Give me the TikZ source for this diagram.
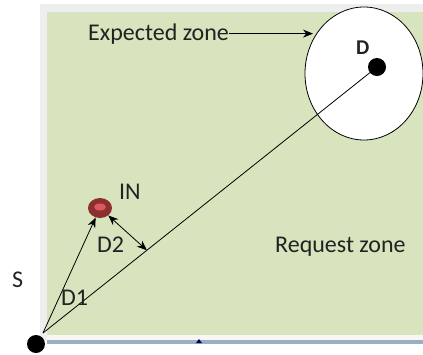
\documentclass[tikz,border=0pt]{standalone}
\usepackage{fontspec}
\setmainfont{Carlito}
\usetikzlibrary{arrows.meta,shapes.geometric,calc}
\definecolor{zonegreen}{HTML}{D7E4BD}
\definecolor{framegray}{HTML}{EEEEEE}
\definecolor{baseblue}{HTML}{9AB0BE}
\definecolor{nodered}{HTML}{8E2F2F}
\definecolor{nodelight}{HTML}{D95A5E}
\definecolor{txt}{HTML}{222222}
\begin{document}
\begin{tikzpicture}[x=1pt,y=-1pt,
  lbl/.style={text=txt,font=\fontsize{24}{27}\selectfont,inner sep=0pt},
  dotnode/.style={circle,fill=black,minimum size=18pt,inner sep=0pt},
  conn/.style={draw=black,line width=0.8pt},
  arr/.style={conn,-{Stealth[length=10pt,width=8pt]}},
  darr/.style={conn,{Stealth[length=10pt,width=8pt]}-{Stealth[length=10pt,width=8pt]}}]
\useasboundingbox (0,0) rectangle (423,354);
% background frame
\fill[framegray] (40,4) rectangle (423,340);
\fill[zonegreen] (47,12) rectangle (423,335);
\fill[white!97!black] (47,335) rectangle (423,340);
\draw[baseblue,line width=4pt] (47,342) -- (423,342);
\fill[black!60!blue] (196,343) -- (202,343) -- (199,339) -- cycle;
% expected zone
\node[ellipse,draw=black,line width=0.8pt,fill=white,minimum width=118pt,minimum height=133pt,inner sep=0pt] (EZ) at (364,73.5) {};
% nodes
\node[dotnode] (S) at (36,344) {};
\coordinate (s0) at (43,333);
\node[dotnode] (D) at (377,67) {};
\node[ellipse,fill=nodered,minimum width=24pt,minimum height=20pt,inner sep=0pt] (IN) at (100,208) {};
\node[ellipse,fill=nodelight,minimum width=12pt,minimum height=7pt,inner sep=0pt] (INc) at (100,207) {};
% connectors
\draw[conn] (s0) -- (D.center);
\draw[arr] (s0) -- (IN);
\coordinate (p) at ($(s0)!0.311!(D.center)$);
\draw[darr] (IN) -- (p);
% labels
\node[lbl,anchor=base west] (ET) at (88,40) {Expected zone};
\coordinate (ETtip) at (313,33);
\draw[arr] (ET.east) -- (ETtip |- ET.east);
\node[lbl,anchor=base west] (RZ) at (275,252) {Request zone};
\node[lbl,anchor=base west] (INl) at (119,199) {IN};
\node[lbl,anchor=base west] (D2l) at (97,252) {D2};
\node[lbl,anchor=base west] (D1l) at (61,305) {D1};
\node[lbl,anchor=base west] (Sl) at (12,287) {S};
\node[lbl,anchor=base west,font=\fontsize{21}{24}\selectfont\bfseries] (Dl) at (356,54) {D};
\end{tikzpicture}
\end{document}
